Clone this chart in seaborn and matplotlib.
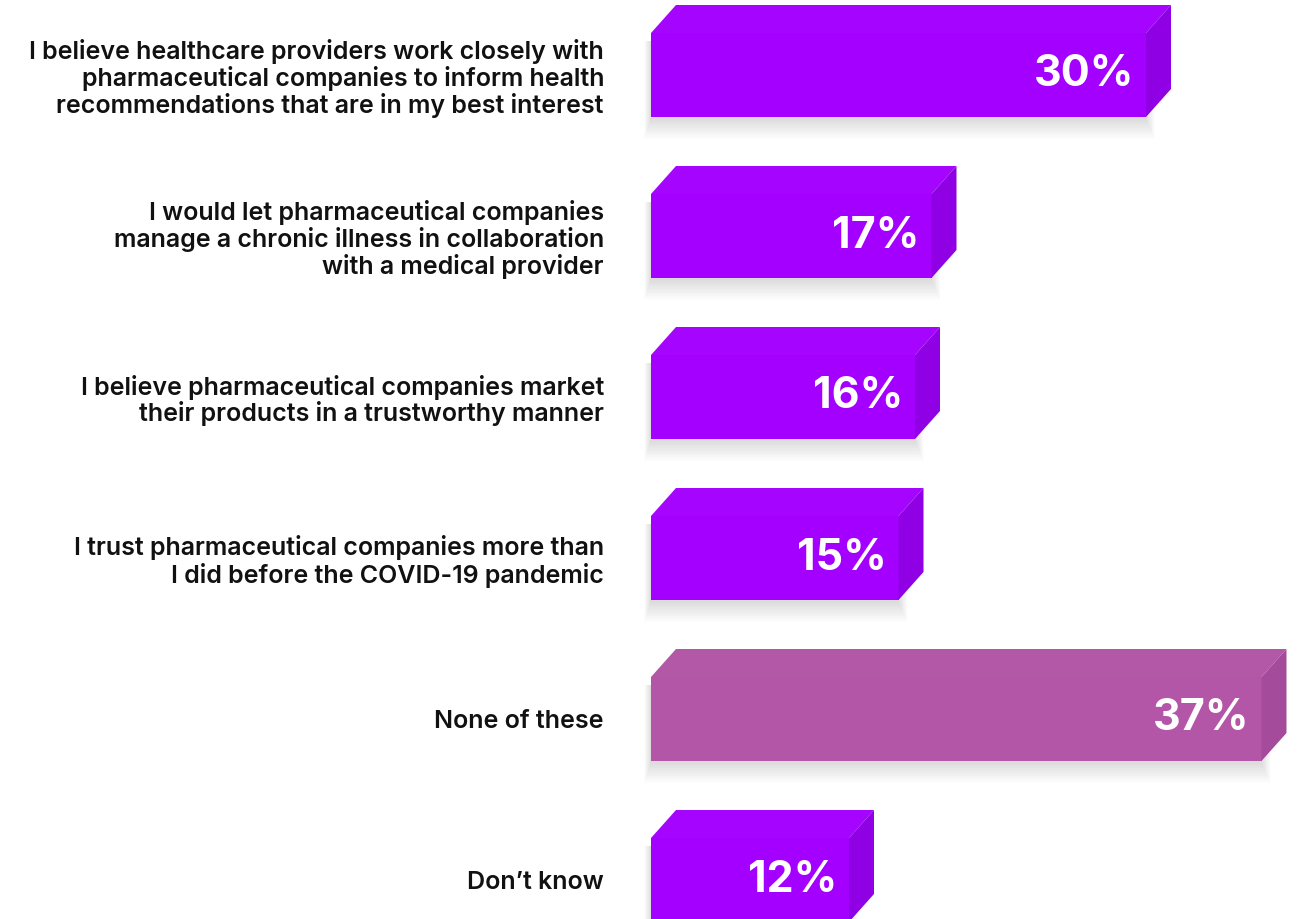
import matplotlib
matplotlib.use("Agg")
import matplotlib.pyplot as plt
from matplotlib.patches import Polygon, Rectangle
import seaborn as sns
import pandas as pd

categories = [
    "I believe healthcare providers work closely with\npharmaceutical companies to inform health\nrecommendations that are in my best interest",
    "I would let pharmaceutical companies\nmanage a chronic illness in collaboration\nwith a medical provider",
    "I believe pharmaceutical companies market\ntheir products in a trustworthy manner",
    "I trust pharmaceutical companies more than\nI did before the COVID-19 pandemic",
    "None of these",
    "Don\u2019t know",
]
values = [30, 17, 16, 15, 37, 12]
value_labels = ["30%", "17%", "16%", "15%", "37%", "12%"]

front_colors = ["#A300FF", "#A300FF", "#A300FF", "#A300FF", "#B456A8", "#A300FF"]
top_colors = ["#A505FF", "#A505FF", "#A505FF", "#A505FF", "#B258A6", "#A505FF"]
side_colors = ["#8F00E4", "#8F00E4", "#8F00E4", "#8F00E4", "#A44C9B", "#8F00E4"]

W, H = 1304, 919
X0 = 651            # pixel where the bars start
PX_PER_PCT = 16.5   # horizontal scale
ROW = 161           # pixel spacing between rows
FIRST = 75          # pixel centre of first row
BAR_W = 84 / ROW

df = pd.DataFrame({"label": categories, "value": values})

sns.set_theme(style="white")
plt.rcParams["font.family"] = ["Inter", "DejaVu Sans"]

fig = plt.figure(figsize=(W / 100, H / 100), dpi=100)
ax = fig.add_axes([X0 / W, 0, (W - X0) / W, 1])

sns.barplot(data=df, x="value", y="label", orient="h", hue="label",
            palette=front_colors, legend=False, width=BAR_W,
            saturation=1, ax=ax, zorder=3, linewidth=0, edgecolor="none")

ax.set_xlim(0, (W - X0) / PX_PER_PCT)
top_lim = -FIRST / ROW
ax.set_ylim((H - FIRST) / ROW, top_lim)

depth_x = 25 / PX_PER_PCT
depth_y = 28 / ROW

for i, v in enumerate(values):
    y_top = i - BAR_W / 2
    y_bot = i + BAR_W / 2
    # soft shadow under the bar
    for k in range(12):
        ax.add_patch(Rectangle((-(k * 0.6) / PX_PER_PCT, y_top + 8 / ROW),
                               v + (k * 1.4) / PX_PER_PCT,
                               BAR_W + (k * 1.8) / ROW - 6 / ROW,
                               facecolor="#000000", alpha=0.011,
                               edgecolor="none", zorder=1, clip_on=False))
    # top face
    ax.add_patch(Polygon([(0, y_top), (depth_x, y_top - depth_y),
                          (v + depth_x, y_top - depth_y), (v, y_top)],
                         closed=True, facecolor=top_colors[i],
                         edgecolor="none", zorder=4, clip_on=False))
    # right side face
    ax.add_patch(Polygon([(v, y_top), (v + depth_x, y_top - depth_y),
                          (v + depth_x, y_bot - depth_y), (v, y_bot)],
                         closed=True, facecolor=side_colors[i],
                         edgecolor="none", zorder=4, clip_on=False))
    ax.text(v - 12 / PX_PER_PCT, i, value_labels[i], ha="right", va="center",
            color="white", fontsize=31, fontweight="bold", zorder=5)

ax.set_xlabel("")
ax.set_ylabel("")
ax.set_xticks([])
ax.tick_params(axis="y", length=0, pad=47 * 72 / 100)
for lab in ax.get_yticklabels():
    lab.set_fontsize(18)
    lab.set_fontweight("semibold")
    lab.set_color("#111111")
    lab.set_linespacing(1.1)
sns.despine(ax=ax, left=True, bottom=True)

fig.savefig("out.png", dpi=100, facecolor="white")
